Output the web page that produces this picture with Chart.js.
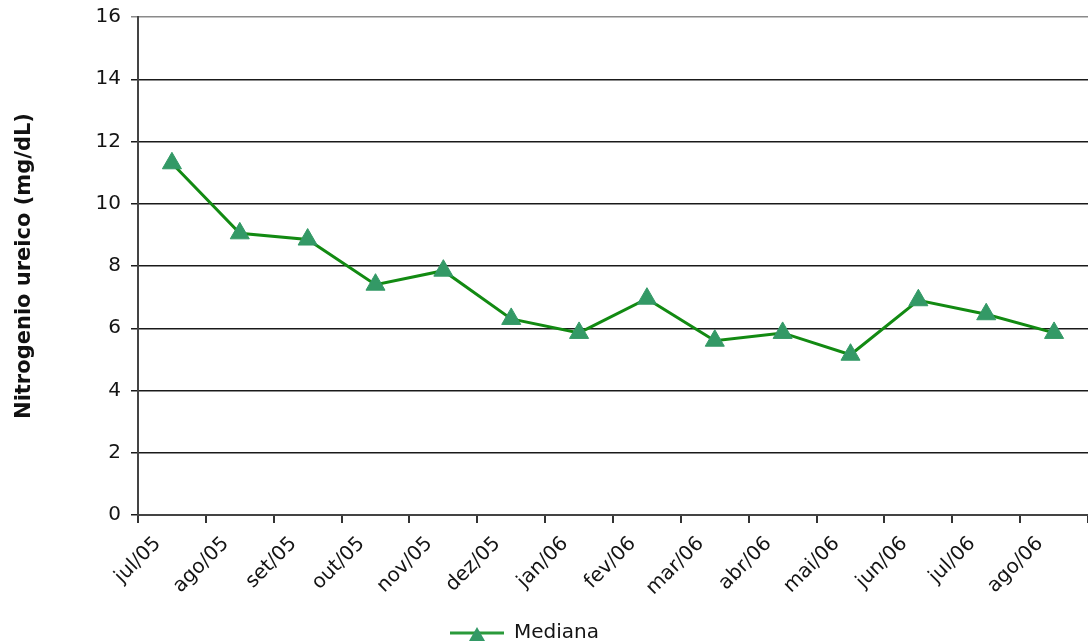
<!DOCTYPE html>
<html>
<head>
<meta charset="utf-8">
<title>Nitrogenio ureico - Mediana</title>
<script src="https://cdn.jsdelivr.net/npm/chart.js@4.4.1/dist/chart.umd.min.js"></script>
<style>
  html, body { margin: 0; padding: 0; background: #ffffff; overflow: hidden; }
  #wrap { width: 1100px; height: 644px; }
</style>
</head>
<body>
<div id="wrap"><canvas id="c" width="1100" height="644"></canvas></div>
<script>
// Monthly categories and median values (mg/dL)
const months = ['jul/05', 'ago/05', 'set/05', 'out/05', 'nov/05', 'dez/05', 'jan/06',
                'fev/06', 'mar/06', 'abr/06', 'mai/06', 'jun/06', 'jul/06', 'ago/06'];
const mediana = [11.3, 9.05, 8.85, 7.4, 7.85, 6.3, 5.85, 6.95, 5.6, 5.85, 5.15, 6.9, 6.45, 5.85];
const yTicks = [0, 2, 4, 6, 8, 10, 12, 14, 16];
const seriesName = 'Mediana';
const axisTitle = 'Nitrogenio ureico (mg/dL)';

const FAMILY = "'DejaVu Sans', Verdana, sans-serif";
const LINE_GREEN = '#128a12';
const MARK_GREEN = '#339966';
const TEXT = '#141414';

Chart.defaults.font.family = FAMILY;

// Legend symbol: a short line with a triangle marker on it
function legendIcon() {
  const c = document.createElement('canvas');
  c.width = 54; c.height = 20;
  const g = c.getContext('2d');
  g.strokeStyle = '#2a9a3a';
  g.lineWidth = 3;
  g.beginPath(); g.moveTo(0, 10); g.lineTo(54, 10); g.stroke();
  g.fillStyle = MARK_GREEN;
  g.beginPath(); g.moveTo(27, 4); g.lineTo(35, 18); g.lineTo(19, 18); g.closePath(); g.fill();
  return c;
}
const icon = legendIcon();

// Moves the legend block to its place under the plot
const legendNudge = {
  id: 'legendNudge',
  afterLayout(chart) {
    const lg = chart.legend;
    if (!lg) return;
    lg.left -= 24; lg.right -= 24;
    lg.top += 9; lg.bottom += 9;
  }
};

new Chart(document.getElementById('c'), {
  type: 'line',
  data: {
    labels: months,
    datasets: [{
      label: seriesName,
      data: mediana,
      borderColor: LINE_GREEN,
      borderWidth: 3,
      tension: 0,
      fill: false,
      pointStyle: 'triangle',
      pointRadius: 11,
      pointBackgroundColor: MARK_GREEN,
      pointBorderColor: MARK_GREEN,
      pointBorderWidth: 1
    }]
  },
  plugins: [legendNudge],
  options: {
    responsive: false,
    animation: false,
    layout: { padding: { top: 14, right: 3, left: 0, bottom: 0 } },
    plugins: {
      tooltip: { enabled: false },
      legend: {
        position: 'bottom',
        labels: {
          color: TEXT,
          font: { size: 20, lineHeight: 1 },
          padding: 5,
          usePointStyle: true,
          pointStyleWidth: 54,
          generateLabels(chart) {
            const items = Chart.defaults.plugins.legend.labels.generateLabels(chart);
            items.forEach(it => { it.pointStyle = icon; });
            return items;
          }
        }
      }
    },
    scales: {
      x: {
        type: 'category',
        offset: true,
        afterFit: s => { s.height = 94; },
        border: { color: '#444444', width: 2 },
        grid: { offset: true, drawOnChartArea: false, drawTicks: true, tickLength: 8, color: '#333333', lineWidth: 2 },
        ticks: {
          color: TEXT,
          font: { size: 20 },
          minRotation: 45,
          maxRotation: 45,
          autoSkip: false,
          labelOffset: -14,
          padding: 9
        }
      },
      y: {
        min: 0,
        max: 16,
        afterBuildTicks: s => { s.ticks = yTicks.map(v => ({ value: v })); },
        afterFit: s => { s.width = 138; },
        border: { color: '#444444', width: 2 },
        grid: {
          color: ctx => (ctx.tick && ctx.tick.value === 16 ? '#8a8a8a' : '#1a1a1a'),
          lineWidth: 1.5,
          drawTicks: true,
          tickLength: 7
        },
        ticks: { color: TEXT, font: { size: 20, lineHeight: 0.7 }, padding: 10 },
        title: {
          display: true,
          text: axisTitle,
          color: '#111111',
          font: { size: 21, weight: 'bold' },
          padding: { top: 12, bottom: 0 }
        }
      }
    }
  }
});
</script>
</body>
</html>
